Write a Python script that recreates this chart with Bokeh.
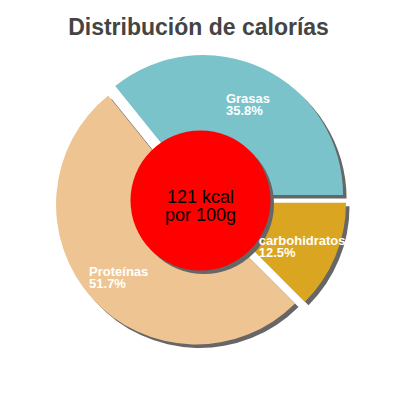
import math
from bokeh.plotting import figure
from bokeh.models import Range1d
from bokeh.core.properties import value
from bokeh.embed import file_html
from bokeh.resources import INLINE

# ---- data ----
categories = ["Grasas", "Proteínas", "carbohidratos"]
percents = [35.8, 51.7, 12.5]
pct_labels = ["35.8%", "51.7%", "12.5%"]
colors = ["#7ac3cb", "#eec592", "#daa520"]
title_text = "Distribución de calorías"
center_lines = ["121 kcal", "por 100g"]

# ---- geometry (1 data unit == 1 screen pixel) ----
CX, CY = 200.0, 200.0
R = 140.0
R_INNER = 70.0
EXPLODE = 6.0
SH_DX, SH_DY = 3.5, -3.5
LABEL_R = 110.0
LABEL_SIZE = 13

# Arial/Liberation Sans Bold advance widths (em fraction)
BOLD_W = {"G": .778, "P": .667, "r": .389, "a": .556, "s": .556, "o": .611,
          "t": .333, "e": .556, "í": .278, "i": .278, "n": .611, "c": .556,
          "b": .611, "h": .611, "d": .611}

def text_w(s, size):
    return sum(BOLD_W.get(ch, .556) for ch in s) * size

p = figure(width=384, height=384, x_range=Range1d(0, 384), y_range=Range1d(16, 400),
           x_axis_type=None, y_axis_type=None, toolbar_location=None,
           output_backend="svg", min_border=0, outline_line_color=None,
           background_fill_color="white", border_fill_color="white")
p.grid.visible = False

starts, ends, mids, xs, ys = [], [], [], [], []
acc = 0.0
for pc in percents:
    a0 = acc / 100 * 2 * math.pi
    acc += pc
    a1 = acc / 100 * 2 * math.pi
    m = (a0 + a1) / 2
    starts.append(a0); ends.append(a1); mids.append(m)
    xs.append(CX + EXPLODE * math.cos(m))
    ys.append(CY + EXPLODE * math.sin(m))

# shadows
p.wedge(x=[x + SH_DX for x in xs], y=[y + SH_DY for y in ys], radius=R,
        start_angle=starts, end_angle=ends, fill_color="#666666", line_color=None)
# slices
p.wedge(x=xs, y=ys, radius=R, start_angle=starts, end_angle=ends,
        fill_color=colors, line_color=None)

# center circle + shadow
p.circle(x=[CX + SH_DX], y=[CY + SH_DY], radius=R_INNER, fill_color="#666666", line_color=None)
p.circle(x=[CX], y=[CY], radius=R_INNER, fill_color="#ff0000", line_color=None)

# slice labels
lx, ly1, ly2 = [], [], []
for name, m in zip(categories, mids):
    ax = CX + LABEL_R * math.cos(m)
    ay = CY + LABEL_R * math.sin(m)
    lx.append(ax - text_w(name, LABEL_SIZE) / 2)
    ly1.append(ay + 2.5)
    ly2.append(ay - 9.5)
p.text(x=lx, y=ly1, text=categories, text_color="white", text_font=value("Liberation Sans"),
       text_font_style="bold", text_font_size=f"{LABEL_SIZE}px", text_align="left",
       text_baseline="alphabetic")
p.text(x=lx, y=ly2, text=pct_labels, text_color="white", text_font=value("Liberation Sans"),
       text_font_style="bold", text_font_size=f"{LABEL_SIZE}px", text_align="left",
       text_baseline="alphabetic")

# center text
p.text(x=[CX, CX], y=[204, 185.7], text=center_lines, text_color="black",
       text_font=value("Liberation Sans"), text_font_size="18px", text_align="center",
       text_baseline="alphabetic")

# title
p.text(x=[198], y=[374], text=[title_text], text_color="#444444",
       text_font=value("Liberation Sans"), text_font_style="bold", text_font_size="23px",
       text_align="center", text_baseline="alphabetic")

open("out.html", "w").write(file_html(p, INLINE))
